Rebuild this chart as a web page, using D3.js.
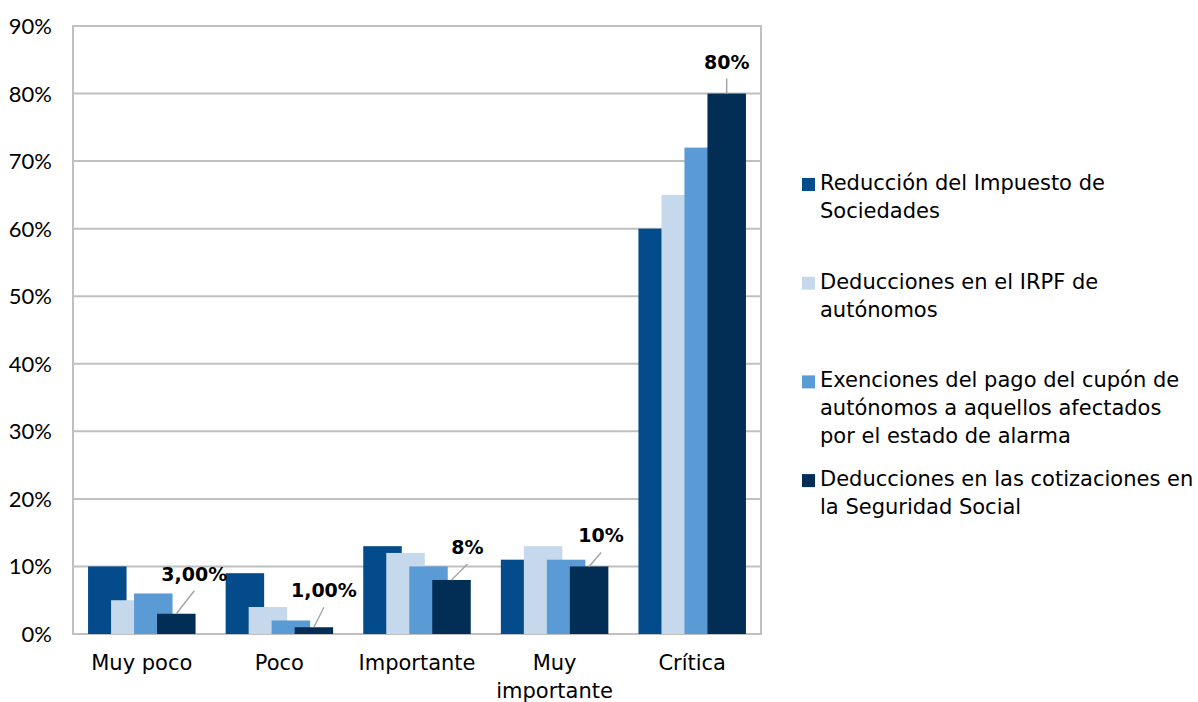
<!DOCTYPE html>
<html>
<head>
<meta charset="utf-8">
<script src="https://d3js.org/d3.v7.min.js"></script>
<style>
  body { margin: 0; background: #fff; }
  text { font-family: "DejaVu Sans", Verdana, sans-serif; fill: #000; }
</style>
</head>
<body>
<svg id="chart" width="1198" height="702"></svg>
<script>
// categories and series values (percent)
var categories = ["Muy poco", "Poco", "Importante", "Muy importante", "Crítica"];
var seriesNames = [
  "Reducción del Impuesto de Sociedades",
  "Deducciones en el IRPF de autónomos",
  "Exenciones del pago del cupón de autónomos a aquellos afectados por el estado de alarma",
  "Deducciones en las cotizaciones en la Seguridad Social"
];
var reduccion   = [10, 9, 13, 11, 60];
var irpf        = [5, 4, 12, 13, 65];
var exenciones  = [6, 2, 10, 11, 72];
var cotizaciones = [3, 1, 8, 10, 80];
var yTicks = [0, 10, 20, 30, 40, 50, 60, 70, 80, 90];
// data labels only on the last series
var labelText = ["3,00%", "1,00%", "8%", "10%", "80%"];
var labelOffset = [[18, -33], [10, -30], [16, -26], [12, -24], [0, -25]];

var legendLines = [
  ["Reducción del Impuesto de", "Sociedades"],
  ["Deducciones en el IRPF de", "autónomos"],
  ["Exenciones del pago del cupón de", "autónomos a aquellos afectados", "por el estado de alarma"],
  ["Deducciones en las cotizaciones en", "la Seguridad Social"]
];
var colors = ["#034b8a", "#c6d9ec", "#5b9bd5", "#022d55"];
var allSeries = [reduccion, irpf, exenciones, cotizaciones];

var svg = d3.select("#chart");
var plot = {left: 73, right: 761, top: 26, bottom: 634};

var x = d3.scaleBand()
  .domain(categories)
  .range([plot.left, plot.right]);

var y = d3.scaleLinear()
  .domain([0, 90])
  .range([plot.bottom, plot.top]);

// gridlines
svg.append("g")
  .selectAll("line")
  .data(yTicks)
  .enter().append("line")
    .attr("x1", plot.left).attr("x2", plot.right)
    .attr("y1", function(d) { return y(d); })
    .attr("y2", function(d) { return y(d); })
    .attr("stroke", "#c0c0c0")
    .attr("stroke-width", 2);

// plot border
svg.append("rect")
  .attr("x", plot.left).attr("y", plot.top)
  .attr("width", plot.right - plot.left)
  .attr("height", plot.bottom - plot.top)
  .attr("fill", "none")
  .attr("stroke", "#c0c0c0")
  .attr("stroke-width", 2);

// y axis labels
svg.append("g")
  .selectAll("text")
  .data(yTicks)
  .enter().append("text")
    .attr("x", 52)
    .attr("y", function(d) { return y(d) + 8; })
    .attr("text-anchor", "end")
    .style("font-family", "Lato, 'Liberation Sans', sans-serif")
    .style("font-size", "22px")
    .text(function(d) { return d + "%"; });

// bars: overlapping clustered layout
var barW = 38.5, step = 23;
function barX(cat, i) {
  var c = x(cat) + x.bandwidth() / 2;
  return c - (3 * step + barW) / 2 + i * step;
}

allSeries.forEach(function(vals, si) {
  svg.append("g")
    .attr("fill", colors[si])
    .selectAll("rect")
    .data(vals)
    .enter().append("rect")
      .attr("x", function(d, i) { return barX(categories[i], si); })
      .attr("y", function(d) { return y(d); })
      .attr("width", barW)
      .attr("height", function(d) { return y(0) - y(d); });
});

// data labels with leader lines
var lab = svg.append("g");
cotizaciones.forEach(function(v, i) {
  var bx = barX(categories[i], 3) + barW / 2;
  var by = y(v);
  var lx = bx + labelOffset[i][0];
  var ly = by + labelOffset[i][1];
  lab.append("line")
    .attr("x1", bx).attr("y1", by)
    .attr("x2", lx).attr("y2", ly + 10)
    .attr("stroke", "#a6a6a6")
    .attr("stroke-width", 1.5);
  lab.append("text")
    .attr("x", lx)
    .attr("y", ly)
    .attr("text-anchor", "middle")
    .style("font-size", "19px")
    .style("font-weight", "bold")
    .text(labelText[i]);
});

// category labels
var catG = svg.append("g");
categories.forEach(function(c) {
  var cx = x(c) + x.bandwidth() / 2;
  var lines = c === "Muy importante" ? ["Muy", "importante"] : [c];
  lines.forEach(function(l, k) {
    catG.append("text")
      .attr("x", cx)
      .attr("y", 670 + k * 28)
      .attr("text-anchor", "middle")
      .style("font-size", "21px")
      .text(l);
  });
});

// legend
var leg = svg.append("g");
legendLines.forEach(function(lines, i) {
  var base = 190 + i * 98.7;
  leg.append("rect")
    .attr("x", 802).attr("y", base - 12)
    .attr("width", 13).attr("height", 13)
    .attr("fill", colors[i]);
  lines.forEach(function(l, k) {
    leg.append("text")
      .attr("x", 820)
      .attr("y", base + k * 28)
      .style("font-size", "21px")
      .text(l);
  });
});
</script>
</body>
</html>
